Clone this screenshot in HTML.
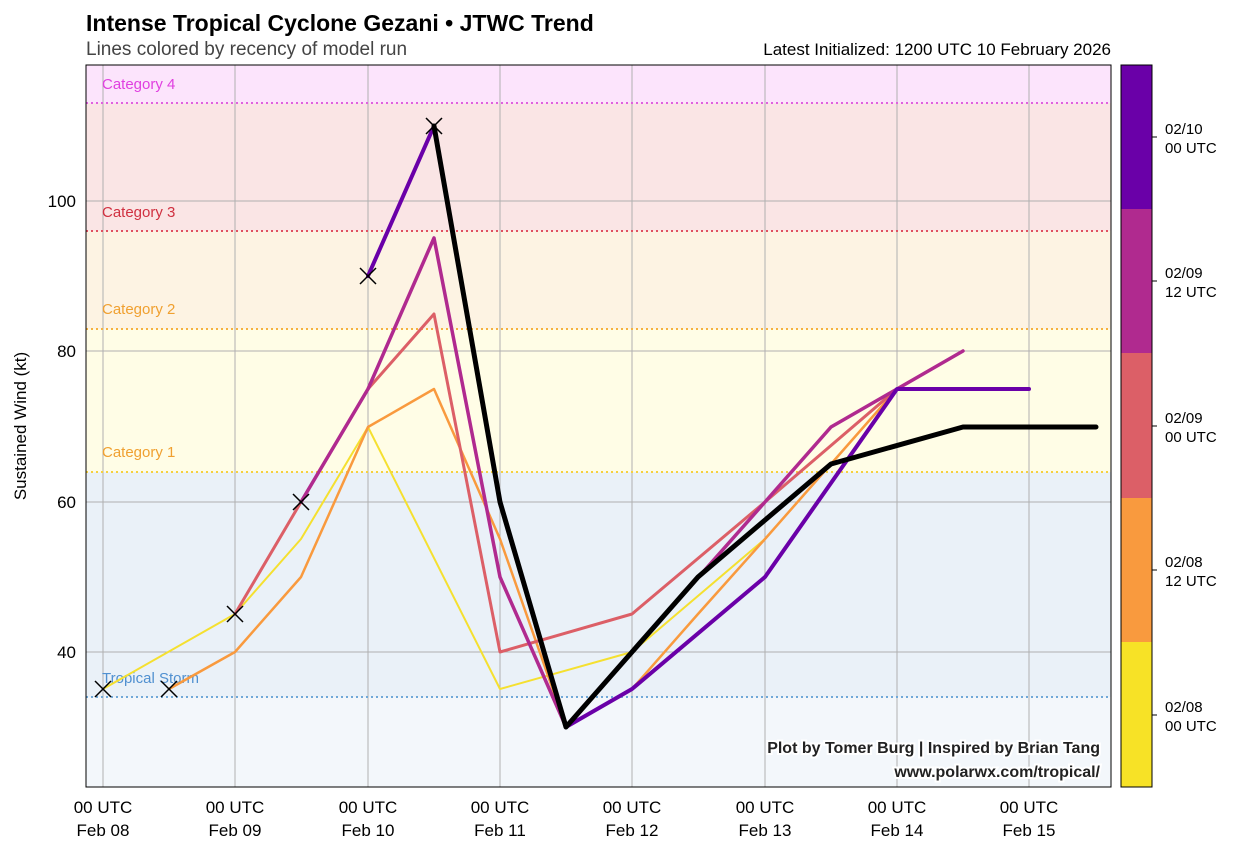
<!DOCTYPE html>
<html><head><meta charset="utf-8"><style>
body{margin:0;background:#fff;}
svg text{font-family:"Liberation Sans","DejaVu Sans",sans-serif;}
</style></head><body>
<svg width="1237" height="853" xmlns="http://www.w3.org/2000/svg">
<rect width="1237" height="853" fill="#fff"/>
<text x="86" y="31" font-size="23" font-weight="bold">Intense Tropical Cyclone Gezani • JTWC Trend</text>
<text x="86" y="55" font-size="19" fill="#444">Lines colored by recency of model run</text>
<text x="1111" y="55" font-size="17" text-anchor="end">Latest Initialized: 1200 UTC 10 February 2026</text>
<!-- bands -->
<rect x="86" y="65" width="1025" height="38" fill="#fce4fc"/>
<rect x="86" y="103" width="1025" height="128" fill="#fae5e5"/>
<rect x="86" y="231" width="1025" height="98" fill="#fdf3e3"/>
<rect x="86" y="329" width="1025" height="143" fill="#fffde6"/>
<rect x="86" y="472" width="1025" height="225" fill="#eaf1f8"/>
<rect x="86" y="697" width="1025" height="90" fill="#f3f7fb"/>
<!-- grid -->
<g stroke="#b0b0b0" stroke-width="1">
<line x1="103" y1="65" x2="103" y2="787"/><line x1="235" y1="65" x2="235" y2="787"/>
<line x1="368" y1="65" x2="368" y2="787"/><line x1="500" y1="65" x2="500" y2="787"/>
<line x1="632" y1="65" x2="632" y2="787"/><line x1="765" y1="65" x2="765" y2="787"/>
<line x1="897" y1="65" x2="897" y2="787"/><line x1="1029" y1="65" x2="1029" y2="787"/>
<line x1="86" y1="201" x2="1111" y2="201"/><line x1="86" y1="351" x2="1111" y2="351"/>
<line x1="86" y1="502" x2="1111" y2="502"/><line x1="86" y1="652" x2="1111" y2="652"/>
</g>
<g stroke-width="2" stroke-dasharray="2,3">
<line x1="86" y1="103" x2="1111" y2="103" stroke="#e060e0"/>
<line x1="86" y1="231" x2="1111" y2="231" stroke="#e05060"/>
<line x1="86" y1="329" x2="1111" y2="329" stroke="#f5b040"/>
<line x1="86" y1="472" x2="1111" y2="472" stroke="#f5d040"/>
<line x1="86" y1="697" x2="1111" y2="697" stroke="#70a8d8"/>
</g>
<g font-size="15">
<text x="102" y="89" fill="#e040e0">Category 4</text>
<text x="102" y="217" fill="#d03040">Category 3</text>
<text x="102" y="314" fill="#f0a030">Category 2</text>
<text x="102" y="457" fill="#f0a030">Category 1</text>
<text x="102" y="683" fill="#5090d0">Tropical Storm</text>
</g>
<!-- series -->
<g fill="none" stroke-linejoin="round" stroke-linecap="round">
<polyline stroke="#f5e030" stroke-width="2" points="103,689 235,614 301,539 368,427 500,689 632,652 765,539 831,464"/>
<polyline stroke="#f99a3e" stroke-width="2.5" points="169,689 235,652 301,577 368,427 434,389 500,539 566,727 632,689 698,614 765,539 831,464 897,389"/>
<polyline stroke="#dc5f67" stroke-width="3" points="235,614 301,502 368,389 434,314 500,652 632,614 765,502 897,389"/>
<polyline stroke="#b02a8f" stroke-width="3.5" points="301,502 368,389 434,238 500,577 566,727 765,502 831,427 897,389 963,351"/>
<polyline stroke="#6a00a8" stroke-width="4" points="368,276 434,126 500,502 566,727 632,689 765,577 897,389 1029,389"/>
<polyline stroke="#000" stroke-width="5" points="434,126 500,502 566,727 632,652 698,577 831,464 963,427 1096,427"/>
</g>
<g stroke="#000" stroke-width="1.5">
<path d="M95,681l16,16M111,681l-16,16"/><path d="M161,681l16,16M177,681l-16,16"/>
<path d="M227,606l16,16M243,606l-16,16"/><path d="M293,494l16,16M309,494l-16,16"/>
<path d="M360,268l16,16M376,268l-16,16"/><path d="M426,118l16,16M442,118l-16,16"/>
</g>
<rect x="86" y="65" width="1025" height="722" fill="none" stroke="#000" stroke-width="1"/>
<!-- axes labels -->
<g font-size="17" text-anchor="end">
<text x="76" y="207">100</text><text x="76" y="357">80</text><text x="76" y="508">60</text><text x="76" y="658">40</text>
</g>
<text transform="translate(26,426) rotate(-90)" font-size="17" text-anchor="middle">Sustained Wind (kt)</text>
<g font-size="17" text-anchor="middle">
<text x="103" y="813">00 UTC</text><text x="103" y="836">Feb 08</text>
<text x="235" y="813">00 UTC</text><text x="235" y="836">Feb 09</text>
<text x="368" y="813">00 UTC</text><text x="368" y="836">Feb 10</text>
<text x="500" y="813">00 UTC</text><text x="500" y="836">Feb 11</text>
<text x="632" y="813">00 UTC</text><text x="632" y="836">Feb 12</text>
<text x="765" y="813">00 UTC</text><text x="765" y="836">Feb 13</text>
<text x="897" y="813">00 UTC</text><text x="897" y="836">Feb 14</text>
<text x="1029" y="813">00 UTC</text><text x="1029" y="836">Feb 15</text>
</g>
<g font-size="16" font-weight="bold" text-anchor="end" fill="#222" stroke="#fff" stroke-width="4" paint-order="stroke">
<text x="1100" y="753">Plot by Tomer Burg | Inspired by Brian Tang</text>
<text x="1100" y="777">www.polarwx.com/tropical/</text>
</g>
<!-- colorbar -->
<rect x="1121" y="65" width="31" height="145" fill="#6a00a8"/>
<rect x="1121" y="209" width="31" height="145" fill="#b02a8f"/>
<rect x="1121" y="353" width="31" height="145" fill="#dc5f67"/>
<rect x="1121" y="498" width="31" height="145" fill="#f99a3e"/>
<rect x="1121" y="642" width="31" height="145" fill="#f7e226"/>
<rect x="1121" y="65" width="31" height="722" fill="none" stroke="#000"/>
<g stroke="#000"><line x1="1152" y1="137" x2="1157" y2="137"/><line x1="1152" y1="281" x2="1157" y2="281"/><line x1="1152" y1="426" x2="1157" y2="426"/><line x1="1152" y1="570" x2="1157" y2="570"/><line x1="1152" y1="715" x2="1157" y2="715"/></g>
<g font-size="15">
<text x="1165" y="134">02/10</text><text x="1165" y="153">00 UTC</text>
<text x="1165" y="278">02/09</text><text x="1165" y="297">12 UTC</text>
<text x="1165" y="423">02/09</text><text x="1165" y="442">00 UTC</text>
<text x="1165" y="567">02/08</text><text x="1165" y="586">12 UTC</text>
<text x="1165" y="712">02/08</text><text x="1165" y="731">00 UTC</text>
</g>
</svg>
</body></html>
